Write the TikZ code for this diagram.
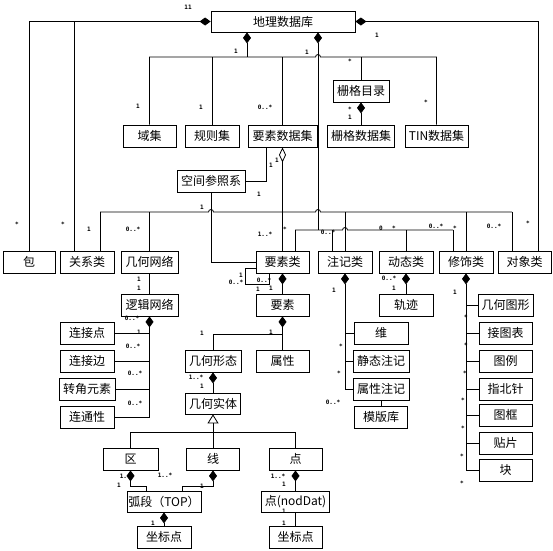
\documentclass[tikz,border=0pt]{standalone}
\usepackage{fontspec}
\setmonofont{DejaVu Sans Mono}
\newfontfamily\cjk{Noto Sans CJK SC}
\usetikzlibrary{arrows.meta}

\begin{document}
\begin{tikzpicture}[
		x=1pt, y=-1pt,
		cls/.style={draw, line width=0.8pt, minimum width=54pt, minimum height=22pt, inner sep=0pt, font=\cjk\fontsize{12}{12}\selectfont},
		mult/.style={inner sep=0pt, font=\ttfamily\bfseries\fontsize{6}{6}\selectfont},
		conn/.style={line width=0.8pt},
		comp/.style={conn, {Diamond[length=11pt,width=8pt]}-},
		agg/.style={conn, {Diamond[open,length=15pt,width=7pt]}-},
		gen/.style={conn, {Triangle[open,length=9pt,width=11pt]}-},
		hop/.style={insert path={arc[start angle=180,end angle=0,radius=2.5pt]}}
		]
		\useasboundingbox (0,0) rectangle (553,550);
		% Geodatabase
		\node[cls, minimum width=144pt, minimum height=21pt] (geodb) at (283,21.5) {地理数据库};
		% Datasets
		\node[cls, minimum width=53pt] (domain) at (149.5,136) {域集};
		\node[cls] (rules) at (212,136) {规则集};
		\node[cls, minimum width=69pt] (featset) at (282.5,136) {要素数据集};
		\node[cls, minimum width=56pt] (rastercat) at (361,91) {栅格目录};
		\node[cls, minimum width=67pt] (rasterset) at (361,136) {栅格数据集};
		\node[cls, minimum width=63pt] (tinset) at (436.5,136) {TIN数据集};
		\node[cls, minimum width=68pt] (spref) at (211,181) {空间参照系};
		% Class row
		\node[cls, minimum width=52pt] (pkg) at (29,262) {包};
		\node[cls] (relcls) at (87,262) {关系类};
		\node[cls, minimum width=57pt] (geonet) at (149.5,262) {几何网络};
		\node[cls, minimum width=53pt] (featcls) at (282.5,262) {要素类};
		\node[cls] (annocls) at (345,262) {注记类};
		\node[cls] (dyncls) at (406,262) {动态类};
		\node[cls] (decocls) at (466,262) {修饰类};
		\node[cls, minimum width=53pt] (objcls) at (524.5,262) {对象类};
		% Network
		\node[cls, minimum width=57pt] (lognet) at (149.5,305) {逻辑网络};
		\node[cls] (junction) at (87,333) {连接点};
		\node[cls] (conedge) at (87,361) {连接边};
		\node[cls, minimum width=56pt] (turn) at (87,389) {转角元素};
		\node[cls] (connect) at (87,417) {连通性};
		% Features
		\node[cls, minimum width=53pt] (feature) at (282.5,305) {要素};
		\node[cls, minimum width=56pt] (geoform) at (213,361) {几何形态};
		\node[cls, minimum width=53pt] (attr) at (282.5,361) {属性};
		\node[cls] (track) at (406,305) {轨迹};
		% Annotation
		\node[cls] (dim) at (381,333) {维};
		\node[cls, minimum width=56pt] (staticanno) at (381,361) {静态注记};
		\node[cls, minimum width=56pt] (attranno) at (381,389) {属性注记};
		\node[cls, minimum width=53pt] (template) at (381,417) {模版库};
		% Decoration
		\node[cls, minimum width=55pt] (geofig) at (505.5,305) {几何图形};
		\node[cls, minimum width=53pt] (mapindex) at (505.5,333) {接图表};
		\node[cls, minimum width=53pt] (legend) at (505.5,361) {图例};
		\node[cls, minimum width=53pt] (northarrow) at (505.5,389) {指北针};
		\node[cls, minimum width=53pt] (mapframe) at (505.5,415) {图框};
		\node[cls, minimum width=53pt] (patch) at (505.5,443) {贴片};
		\node[cls, minimum width=53pt] (block) at (505.5,470) {块};
		% Geometry
		\node[cls, minimum width=55pt, minimum height=21pt] (geoentity) at (213,403.5) {几何实体};
		\node[cls, minimum width=55pt] (area) at (130.5,459) {区};
		\node[cls, minimum width=53pt] (lineobj) at (213,459) {线};
		\node[cls, minimum width=53pt] (pointobj) at (295.5,459) {点};
		\node[cls, minimum width=74pt, minimum height=21pt] (arcseg) at (164,501.5) {弧段（TOP）};
		\node[cls] (coordA) at (164,537) {坐标点};
		\node[cls, minimum width=68pt, minimum height=21pt] (nodept) at (295.5,501.5) {点(nodDat)};
		\node[cls, minimum width=53pt] (coordB) at (295.5,537) {坐标点};

		% Multiplicities
		\node[mult] (m1) at (188,7) {11};
		\node[mult] (m2) at (377,35) {1};
		\node[mult] (m3) at (17,224) {*};
		\node[mult] (m4) at (63,224) {*};
		\node[mult] (m5) at (528,223) {*};
		\node[mult] (m6) at (236,51) {1};
		\node[mult] (m7) at (307,52) {1};
		\node[mult] (m8) at (138,106) {1};
		\node[mult] (m9) at (201,107) {1};
		\node[mult] (m10) at (265,107) {0..*};
		\node[mult] (m11) at (350,61) {*};
		\node[mult] (m12) at (350,109) {*};
		\node[mult] (m13) at (350,117) {1};
		\node[mult] (m14) at (426,102) {*};
		\node[mult] (m15) at (277,160) {1};
		\node[mult] (m16) at (271,165) {1};
		\node[mult] (m17) at (259,194) {1};
		\node[mult] (m18) at (202,207) {1};
		\node[mult] (m19) at (89,229) {1};
		\node[mult] (m20) at (133,229) {0..*};
		\node[mult] (m21) at (265,234) {1..*};
		\node[mult] (m22) at (285,229) {*};
		\node[mult] (m23) at (328,232) {0..*};
		\node[mult] (m24) at (381,228) {0};
		\node[mult] (m25) at (394,228) {*};
		\node[mult] (m26) at (436,226) {0..*};
		\node[mult] (m27) at (455,228) {*};
		\node[mult] (m28) at (494,226) {0..*};
		\node[mult] (m29) at (139,279) {1};
		\node[mult] (m30) at (139,288) {1};
		\node[mult] (m31) at (132,318) {0..*};
		\node[mult] (m32) at (139,332) {1};
		\node[mult] (m33) at (133,346) {0..*};
		\node[mult] (m34) at (135,373) {0..*};
		\node[mult] (m35) at (135,403) {0..*};
		\node[mult] (m36) at (241,275) {1};
		\node[mult] (m37) at (236,282) {0..*};
		\node[mult] (m38) at (264,280) {0..*};
		\node[mult] (m39) at (258,289) {1};
		\node[mult] (m40) at (271,288) {1};
		\node[mult] (m41) at (202,333) {1};
		\node[mult] (m42) at (271,332) {1};
		\node[mult] (m43) at (334,290) {1};
		\node[mult] (m44) at (341,346) {*};
		\node[mult] (m45) at (339,373) {*};
		\node[mult] (m46) at (333,402) {0..*};
		\node[mult] (m47) at (389,278) {0..*};
		\node[mult] (m48) at (394,288) {1};
		\node[mult] (m49) at (455,292) {1};
		\node[mult] (m50) at (466,317) {*};
		\node[mult] (m51) at (466,345) {*};
		\node[mult] (m52) at (465,373) {*};
		\node[mult] (m53) at (463,400) {*};
		\node[mult] (m54) at (463,428) {*};
		\node[mult] (m55) at (462,456) {*};
		\node[mult] (m56) at (462,483) {*};
		\node[mult] (m57) at (196,377) {1..*};
		\node[mult] (m58) at (202,386) {1};
		\node[mult] (m59) at (127,476) {1..*};
		\node[mult] (m60) at (119,485) {1};
		\node[mult] (m61) at (165,475) {1..*};
		\node[mult] (m62) at (202,486) {1};
		\node[mult] (m63) at (153,523) {1};
		\node[mult] (m64) at (278,476) {1..*};
		\node[mult] (m65) at (284,484) {1};
		\node[mult] (m66) at (284,511) {1};
		\node[mult] (m67) at (284,523) {1};

		% Geodatabase sides
		\coordinate (relL) at (74,21.5);
		\coordinate (objR) at (538,21.5);
		\draw[comp] (geodb.west) -| (pkg.north);
		\draw[conn] (relL) -- (relL |- relcls.north);
		\draw[comp] (geodb.east) -| (objR |- objcls.north);
		% Dataset bus
		\coordinate (busA) at (247,57);
		\coordinate (busB) at (318,57);
		\draw[comp] (busA |- geodb.south) -- (busA);
		\draw[conn] (domain.north) |- ([xshift=-2.5pt]busB) [hop] -- (busB -| tinset.north) -- (tinset.north);
		\draw[conn] (rules.north) -- (rules.north |- busA);
		\draw[conn] (featset.north) -- (featset.north |- busA);
		\draw[conn] (rastercat.north) -- (rastercat.north |- busA);
		\draw[comp] (rastercat.south) -- (rasterset.north);
		% Class bus
		\coordinate (fcB) at (295,230);
		\coordinate (acB) at (332,230);
		\coordinate (hopC) at (345,230);
		\coordinate (dcB) at (406,230);
		\coordinate (decB) at (453,230);
		\draw[comp] (busB |- geodb.south) -- (busB |- fcB);
		\draw[conn] (fcB) -- ([xshift=-2.5pt]hopC) [hop] -- (decB);
		\draw[conn] (fcB) -- (fcB |- featcls.north);
		\draw[conn] (acB) -- (acB |- annocls.north);
		\draw[conn] (dcB) -- (dyncls.north);
		\draw[conn] (decB) -- (decB |- decocls.north);
		% Table bus
		\coordinate (rcD) at (100,212);
		\coordinate (gnD) at (149.5,212);
		\coordinate (hopD) at (211,212);
		\coordinate (hopE) at (318,212);
		\coordinate (acD) at (345,212);
		\coordinate (decD) at (466,212);
		\coordinate (ocD) at (512,212);
		\draw[conn] (rcD) -- ([xshift=-2.5pt]hopD) [hop] -- ([xshift=-2.5pt]hopE) [hop] -- (ocD);
		\draw[conn] (rcD) -- (rcD |- relcls.north);
		\draw[conn] (gnD) -- (geonet.north);
		\draw[conn] (acD) -- (annocls.north);
		\draw[conn] (decD) -- (decocls.north);
		\draw[conn] (ocD) -- (ocD |- objcls.north);
		% Feature dataset
		\draw[agg] (featset.south) -- (featcls.north);
		\draw[conn] ([xshift=-16.5pt]featset.south) |- (spref.east);
		\draw[conn] (spref.south) |- (featcls.west);
		% Feature class
		\coordinate (loopA) at (245,284);
		\draw[conn] ([yshift=-6pt]featcls.west) -| (loopA) -| ([xshift=-13.5pt]featcls.south);
		\draw[comp] (featcls.south) -- (feature.north);
		\draw[comp] (feature.south) -- (attr.north);
		\coordinate (ftB) at (282.5,334);
		\draw[conn] (ftB) -| (geoform.north);
		\draw[comp] (dyncls.south) -- (track.north);
		% Network
		\draw[conn] (geonet.south) -- (lognet.north);
		\draw[comp] (lognet.south) |- (connect.east);
		\draw[conn] (junction.east) -- (junction.east -| lognet.south);
		\draw[conn] (conedge.east) -- (conedge.east -| lognet.south);
		\draw[conn] (turn.east) -- (turn.east -| lognet.south);
		% Annotation
		\draw[comp] (annocls.south) |- (attranno.west);
		\draw[conn] (dim.west) -- (dim.west -| annocls.south);
		\draw[conn] (staticanno.west) -- (staticanno.west -| annocls.south);
		\draw[conn] (attranno.south) -- (template.north);
		% Decoration
		\draw[comp] (decocls.south) |- (block.west);
		\draw[conn] (geofig.west) -- (geofig.west -| decocls.south);
		\draw[conn] (mapindex.west) -- (mapindex.west -| decocls.south);
		\draw[conn] (legend.west) -- (legend.west -| decocls.south);
		\draw[conn] (northarrow.west) -- (northarrow.west -| decocls.south);
		\draw[conn] (mapframe.west) -- (mapframe.west -| decocls.south);
		\draw[conn] (patch.west) -- (patch.west -| decocls.south);
		% Geometry
		\draw[comp] (geoform.south) -- (geoentity.north);
		\coordinate (genB) at (130.5,432);
		\draw[gen] (geoentity.south) -- (lineobj.north);
		\draw[conn] (area.north) -- (genB) -| (pointobj.north);
		\coordinate (arcL) at (146,486);
		\coordinate (arcR) at (182,486);
		\draw[comp] (area.south) |- (arcL) -- (arcL |- arcseg.north);
		\draw[comp] (lineobj.south) |- (arcR) -- (arcR |- arcseg.north);
		\draw[comp] (arcseg.south) -- (coordA.north);
		\draw[comp] (pointobj.south) -- (nodept.north);
		\draw[conn] (nodept.south) -- (coordB.north);
	\end{tikzpicture}
\end{document}
